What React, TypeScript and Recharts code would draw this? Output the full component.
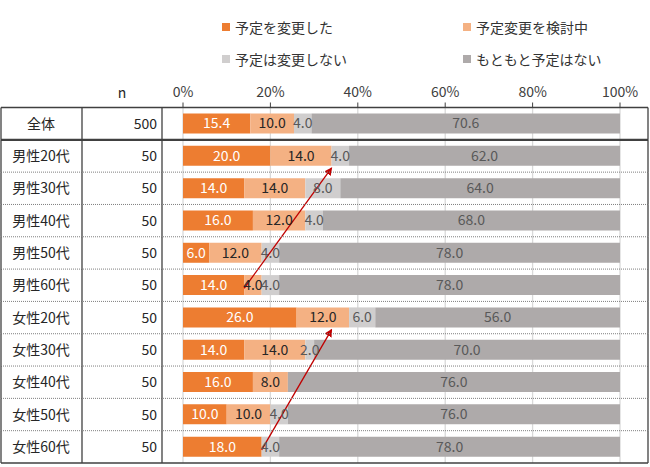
import React from "react"
import {
  BarChart,
  Bar,
  XAxis,
  YAxis,
  CartesianGrid,
  LabelList,
  ReferenceLine,
} from "recharts"

const categories = ["全体", "男性20代", "男性30代", "男性40代", "男性50代", "男性60代", "女性20代", "女性30代", "女性40代", "女性50代", "女性60代"]
const nValues = [500, 50, 50, 50, 50, 50, 50, 50, 50, 50, 50]
const changed = [15.4, 20.0, 14.0, 16.0, 6.0, 14.0, 26.0, 14.0, 16.0, 10.0, 18.0]
const considering = [10.0, 14.0, 14.0, 12.0, 12.0, 4.0, 12.0, 14.0, 8.0, 10.0, 0]
const noChange = [4.0, 4.0, 8.0, 4.0, 4.0, 4.0, 6.0, 2.0, 0, 4.0, 4.0]
const noPlan = [70.6, 62.0, 64.0, 68.0, 78.0, 78.0, 56.0, 70.0, 76.0, 76.0, 78.0]

const seriesNames = ["予定を変更した", "予定変更を検討中", "予定は変更しない", "もともと予定はない"]
const seriesKeys = ["changed", "considering", "noChange", "noPlan"]
const seriesColors = ["#ED7D31", "#F4B183", "#D0CECE", "#AEAAAA"]
const labelColors = ["#FFFFFF", "#262626", "#595959", "#595959"]
const xTicks = [0, 20, 40, 60, 80, 100]

// red arrows: [from category, from value, to category, to value]
const arrows: [string, number, string, number][] = [
  ["男性60代", 14, "男性20代", 34],
  ["女性60代", 18, "女性20代", 34],
]

const data = categories.map((name, i) => ({
  name,
  n: nValues[i],
  changed: changed[i],
  considering: considering[i],
  noChange: noChange[i],
  noPlan: noPlan[i],
}))

const W = 650
const H = 467
const TOP = 107.5
const BOTTOM = 4
const X_AXIS_H = 30
const ROW_H = (H - TOP - BOTTOM) / categories.length
const FONT = "'Noto Sans CJK JP', 'Noto Sans', sans-serif"
const LINE = "#404040"

function RowTick(props: any) {
  const { y, payload, index } = props
  const top = y - ROW_H / 2
  const bot = y + ROW_H / 2
  const last = index === categories.length - 1
  return (
    <g>
      {index === 0 && (
        <>
          <line x1={1} x2={W - 2} y1={top} y2={top} stroke={LINE} strokeWidth={1.3} />
          <text x={122} y={top - 10} textAnchor="middle" fontSize={14} fill="#262626" fontFamily={FONT}>n</text>
        </>
      )}
      {[1, 82, 162, W - 2].map((vx) => (
        <line key={vx} x1={vx} x2={vx} y1={top} y2={bot} stroke={LINE} strokeWidth={1.3} />
      ))}
      {index === 0 || last ? (
        <line x1={1} x2={W - 2} y1={bot} y2={bot} stroke={LINE} strokeWidth={index === 0 ? 2.2 : 1.3} />
      ) : (
        <line x1={1} x2={W - 2} y1={bot} y2={bot} stroke="#7f7f7f" strokeWidth={1} strokeDasharray="1 1" />
      )}
      <text x={41} y={y} dy="0.36em" textAnchor="middle" fontSize={14} fill="#262626" fontFamily={FONT}>
        {payload.value}
      </text>
      <text x={157} y={y} dy="0.36em" textAnchor="end" fontSize={14} fill="#262626" fontFamily={FONT}>
        {nValues[index]}
      </text>
    </g>
  )
}

function LegendBox() {
  return (
    <div
      style={{
        position: "absolute",
        top: 17,
        left: 222,
        display: "grid",
        gridTemplateColumns: "241px 200px",
        rowGap: 12,
        fontFamily: FONT,
      }}
    >
      {seriesNames.map((s, i) => (
        <div key={s} style={{ display: "flex", alignItems: "center", height: 20, fontSize: 14, color: "#333" }}>
          <span style={{ width: 8, height: 8, background: seriesColors[i], marginRight: 5, display: "inline-block" }} />
          {s}
        </div>
      ))}
    </div>
  )
}

function ArrowShape(props: any) {
  const { x1, y1, x2, y2, id } = props
  return (
    <g>
      <defs>
        <marker id={id} markerWidth="8" markerHeight="8" refX="7" refY="4" orient="auto" markerUnits="userSpaceOnUse">
          <path d="M0,0 L8,4 L0,8 Z" fill="#C00000" />
        </marker>
      </defs>
      <line x1={x1} y1={y1 + 3} x2={x2} y2={y2 + 12} stroke="#C00000" strokeWidth={1.3} markerEnd={`url(#${id})`} />
    </g>
  )
}

export default function App() {
  return (
    <div style={{ position: "absolute", left: 0, top: 0, width: W, height: H, background: "#fff", fontFamily: FONT }}>
      <BarChart
        width={W}
        height={H}
        data={data}
        layout="vertical"
        margin={{ top: TOP - X_AXIS_H, right: 30, bottom: BOTTOM, left: 0 }}
        barSize={20}
      >
        <CartesianGrid horizontal={false} stroke="#D9D9D9" strokeWidth={1.3} />
        <XAxis
          type="number"
          orientation="top"
          height={X_AXIS_H}
          domain={[0, 100]}
          ticks={xTicks}
          tickFormatter={(v) => `${v}%`}
          axisLine={{ stroke: LINE }}
          tickLine={{ stroke: LINE }}
          tickSize={5}
          tickMargin={6}
          tick={{ fontSize: 14, fill: "#404040", fontFamily: FONT }}
        />
        <YAxis
          type="category"
          dataKey="name"
          width={183}
          interval={0}
          axisLine={false}
          tickLine={false}
          tick={(p: any) => <RowTick {...p} />}
        />
        {seriesKeys.map((k, i) => (
          <Bar key={k} dataKey={k} name={seriesNames[i]} stackId="a" fill={seriesColors[i]} isAnimationActive={false}>
            <LabelList
              dataKey={k}
              position="center"
              fill={labelColors[i]}
              fontSize={14}
              fontFamily={FONT}
              formatter={(v: any) => (v > 0 ? Number(v).toFixed(1) : "")}
            />
          </Bar>
        ))}
        {arrows.map(([fc, fv, tc, tv], i) => (
          <ReferenceLine
            key={i}
            segment={[{ x: fv, y: fc }, { x: tv, y: tc }]}
            shape={(p: any) => <ArrowShape {...p} id={`arrow${i}`} />}
          />
        ))}
      </BarChart>
      <LegendBox />
    </div>
  )
}
